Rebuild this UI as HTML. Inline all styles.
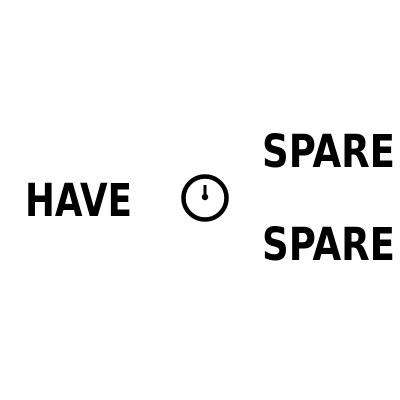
<!DOCTYPE html>
<html><head><style>html,body{margin:0;padding:0;background:#fff;}svg{display:block}</style></head>
<body>
<svg width="400" height="400" xmlns="http://www.w3.org/2000/svg">
<rect width="400" height="400" fill="#fff"/>
<g font-family="DejaVu Sans, Liberation Sans, sans-serif" font-weight="bold" font-size="45" fill="#000">
<text x="25" y="216" textLength="107" lengthAdjust="spacingAndGlyphs">HAVE</text>
<text x="262" y="167" textLength="133" lengthAdjust="spacingAndGlyphs">SPARE</text>
<text x="262" y="260" textLength="133" lengthAdjust="spacingAndGlyphs">SPARE</text>
</g>
<g>
<circle cx="205" cy="198" r="21.5" fill="none" stroke="#000" stroke-width="4.5"/>
<line x1="205" y1="185" x2="205" y2="197" stroke="#000" stroke-width="3"/>
<circle cx="205" cy="197" r="3.2" fill="#000"/>
</g>
</svg>
</body></html>
